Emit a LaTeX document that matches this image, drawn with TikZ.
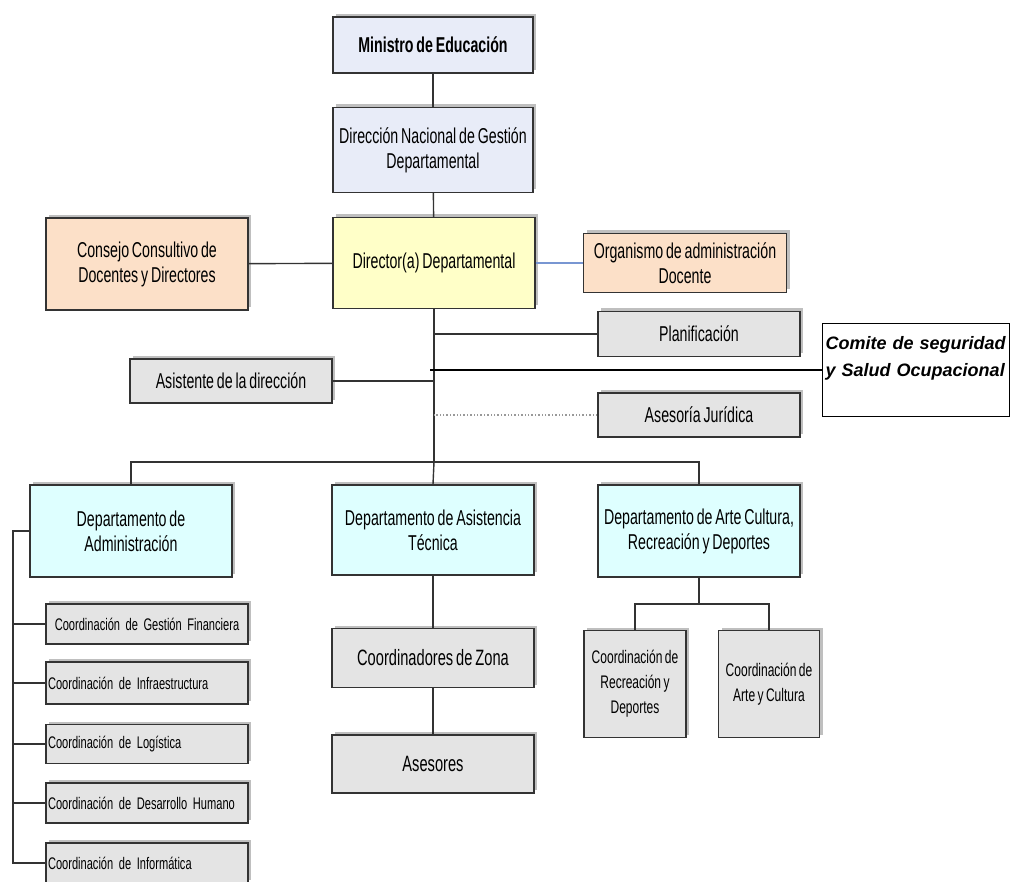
\documentclass[tikz,border=0pt]{standalone}
\usepackage{fontspec}
\setmainfont{Liberation Sans}[FakeStretch=0.66,WordSpace=0.72]
\newfontfamily\comitefont{Liberation Sans}
\usetikzlibrary{positioning,shadows}
\definecolor{topblue}{RGB}{232,236,248}
\definecolor{diryellow}{RGB}{255,255,200}
\definecolor{peach}{RGB}{252,224,200}
\definecolor{staffgray}{RGB}{228,228,228}
\definecolor{deptcyan}{RGB}{222,255,255}
\definecolor{linkblue}{RGB}{120,150,210}

\begin{document}
\begin{tikzpicture}[x=1pt,y=-1pt,line width=1.4pt]
\tikzstyle{box}=[draw=black!80,align=center,inner sep=2pt,font=\fontsize{21.5}{25}\selectfont,drop shadow={shadow xshift=3pt,shadow yshift=3pt,fill=black!25,opacity=1}]
\tikzstyle{small}=[box,fill=staffgray,minimum width=202,text width=198,align=left,inner xsep=1pt,font=\fontsize{16.8}{20}\selectfont]
\useasboundingbox (0,0) rectangle (1012,882);
\node[box,fill=topblue,minimum width=200,minimum height=56,font=\fontsize{21.5}{25}\selectfont\bfseries] (ministro) at (433,45) {Ministro de Educación};
\node[box,fill=topblue,minimum width=200,minimum height=85] (dnacional) at (433,150) {Dirección Nacional de Gestión\\Departamental};
\node[box,fill=diryellow,minimum width=202,minimum height=91] (director) at (434,263) {Director(a) Departamental};
\node[box,fill=peach,minimum width=202,minimum height=92] (consejo) at (147,264) {Consejo Consultivo de\\Docentes y Directores};
\node[box,fill=peach,minimum width=203,minimum height=59] (organismo) at (685,263) {Organismo de administración\\Docente};
\node[box,fill=staffgray,minimum width=202,minimum height=45] (planif) at (699,334) {Planificación};
\node[draw=black,inner sep=3pt,text width=181,align=left,text height=23pt,text depth=64pt,anchor=north west,font=\comitefont\fontsize{18}{27}\selectfont\bfseries\itshape] (comite) at (822,323) {Comite de seguridad\\y Salud Ocupacional};
\node[box,fill=staffgray,minimum width=202,minimum height=44] (asesoria) at (699,415) {Asesoría Jurídica};
\node[box,fill=staffgray,minimum width=202,minimum height=44] (asistente) at (231,381) {Asistente de la dirección};
\node[box,fill=deptcyan,minimum width=202,minimum height=92] (admin) at (131,531) {Departamento de\\Administración};
\node[box,fill=deptcyan,minimum width=202,minimum height=90] (asistencia) at (433,530) {Departamento de Asistencia\\Técnica};
\node[box,fill=deptcyan,minimum width=202,minimum height=92] (arte) at (699,531) {Departamento de Arte Cultura,\\Recreación y Deportes};
\node[box,fill=staffgray,minimum width=202,minimum height=59,font=\fontsize{22.2}{25}\selectfont] (zona) at (433,658) {Coordinadores de Zona};
\node[box,fill=staffgray,minimum width=202,minimum height=58,font=\fontsize{22.2}{25}\selectfont] (asesores) at (433,764) {Asesores};
\node[box,fill=staffgray,minimum width=102,minimum height=107,font=\fontsize{18.2}{25}\selectfont] (crecre) at (635,684) {Coordinación de\\Recreación y\\Deportes};
\node[box,fill=staffgray,minimum width=101,minimum height=107,font=\fontsize{18.2}{25}\selectfont] (carte) at (769,684) {Coordinación de\\Arte y Cultura};
\node[small,align=center,minimum height=40] (gfin) at (147,624) {Coordinación de Gestión Financiera};
\node[small,minimum height=42] (infra) at (147,683) {Coordinación de Infraestructura};
\node[small,minimum height=39] (logis) at (147,744) {Coordinación de Logística};
\node[small,minimum height=40] (dhum) at (147,803) {Coordinación de Desarrollo Humano};
\node[small,minimum height=40] (infor) at (147,863) {Coordinación de Informática};
\coordinate (bar) at (434,462);
\coordinate (artebar) at (699,604);
\coordinate (spine) at (13,531);
\draw[black!80] (ministro) -- (dnacional);
\draw[black!80] (dnacional) -- (director);
\draw[black!80] (consejo) -- (director);
\draw[linkblue] (director) -- (organismo);
\draw[black!80] (director.south) -- (bar);
\draw[black!80] (planif.west) -- (planif.west -| bar);
\draw[black] (comite.west) -- ([xshift=-4pt]comite.west -| bar);
\draw[black!40,dotted] (asesoria.west) -- (asesoria.west -| bar);
\draw[black!80] (asistente.east) -- (asistente.east -| bar);
\draw[black!80] (admin.north) |- (bar) -| (arte.north);
\draw[black!80] (bar) -- (asistencia.north);
\draw[black!80] (asistencia) -- (zona);
\draw[black!80] (zona) -- (asesores);
\draw[black!80] (arte.south) -- (artebar);
\draw[black!80] (crecre.north) |- (artebar) -| (carte.north);
\draw[black!80] (admin.west) -- (spine) |- (infor.west);
\foreach \c in {gfin,infra,logis,dhum}
  \draw[black!80] (\c.west) -- (\c.west -| spine);
\end{tikzpicture}
\end{document}
